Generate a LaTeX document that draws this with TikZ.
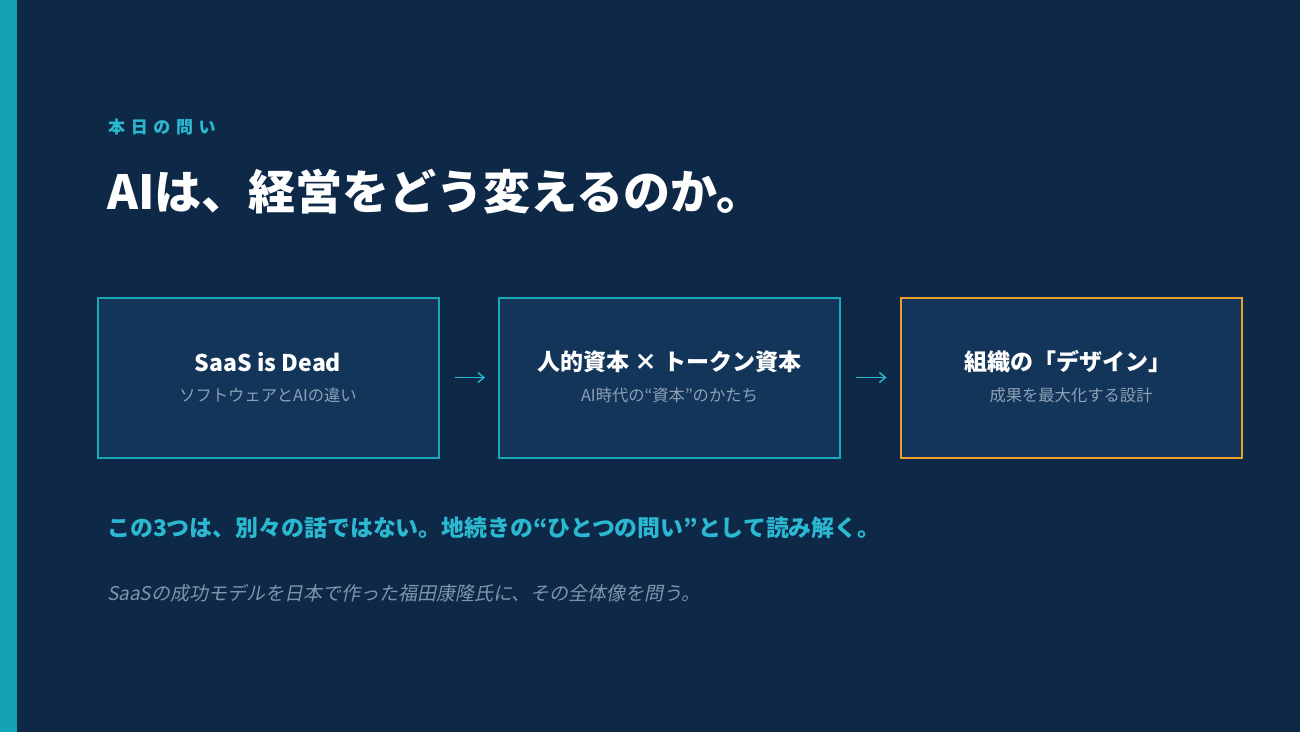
\documentclass[tikz,border=0pt]{standalone}
\usepackage{fontspec}
\usetikzlibrary{arrows.meta}
\setmainfont{Noto Sans CJK JP}
\newfontfamily\jpfont{Noto Sans CJK JP}
\newfontfamily\jpspaced[LetterSpace=33]{Noto Sans CJK JP}
\newfontfamily\jpslant[FakeSlant=0.2]{Noto Sans CJK JP}
\definecolor{bgnavy}{HTML}{0E2948}
\definecolor{boxfill}{HTML}{13355A}
\definecolor{tealbar}{HTML}{14A2B5}
\definecolor{tealline}{HTML}{18A8BA}
\definecolor{orangeline}{HTML}{E9A02E}
\definecolor{cyantext}{HTML}{2BB9D2}
\definecolor{subgray}{HTML}{8CA0B6}
\definecolor{notegray}{HTML}{7F94AB}
\tikzset{
  stagebox/.style={draw=tealline, line width=2pt, fill=boxfill, minimum width=341pt, minimum height=160pt, inner sep=0pt},
  goalbox/.style={stagebox, draw=orangeline},
  boxtitle/.style={text=white, font=\jpfont\bfseries\fontsize{23}{27}\selectfont, inner sep=0pt},
  boxsub/.style={text=subgray, font=\jpfont\fontsize{16.3}{19}\selectfont, inner sep=0pt},
  flowarrow/.style={draw=cyantext, line width=1.4pt, -{Straight Barb[length=6pt,width=10pt]}, shorten <=15pt, shorten >=13pt}
}
\begin{document}
\begin{tikzpicture}[x=1pt,y=-1pt]
\useasboundingbox (0,0) rectangle (1300,732);
\fill[bgnavy] (0,0) rectangle (1300,732);
\fill[tealbar] (0,0) rectangle (17,732);

\node[anchor=west, inner sep=0pt, text=cyantext, font=\jpspaced\bfseries\fontsize{17}{21}\selectfont] (kicker) at (108,127) {本日の問い};
\node[anchor=west, inner sep=0pt, text=white, font=\jpfont\bfseries\fontsize{47}{55}\selectfont] (title) at (107,192) {AIは、経営をどう変えるのか。};

\node[stagebox] (b1) at (268,377.5) {};
\node[stagebox] (b2) at (669.5,377.5) {};
\node[goalbox] (b3) at (1071,377.5) {};

\node[boxtitle] (t1) at (268,362) {SaaS is Dead};
\node[boxsub] (s1) at (268,395) {ソフトウェアとAIの違い};
\node[boxtitle] (t2) at (669.5,362) {人的資本 × トークン資本};
\node[boxsub] (s2) at (669.5,395) {AI時代の“資本”のかたち};
\node[boxtitle] (t3) at (1068,362) {組織の「デザイン」};
\node[boxsub] (s3) at (1071,395) {成果を最大化する設計};

\draw[flowarrow] (b1.east) -- (b2.west);
\draw[flowarrow] (b2.east) -- (b3.west);

\node[anchor=west, inner sep=0pt, text=cyantext, font=\jpfont\bfseries\fontsize{22.9}{27}\selectfont] (lead) at (107,528) {この3つは、別々の話ではない。地続きの“ひとつの問い”として読み解く。};
\node[anchor=west, inner sep=0pt, text=notegray, font=\jpslant\fontsize{19}{23}\selectfont] (note) at (107,593) {SaaSの成功モデルを日本で作った福田康隆氏に、その全体像を問う。};
\end{tikzpicture}
\end{document}
